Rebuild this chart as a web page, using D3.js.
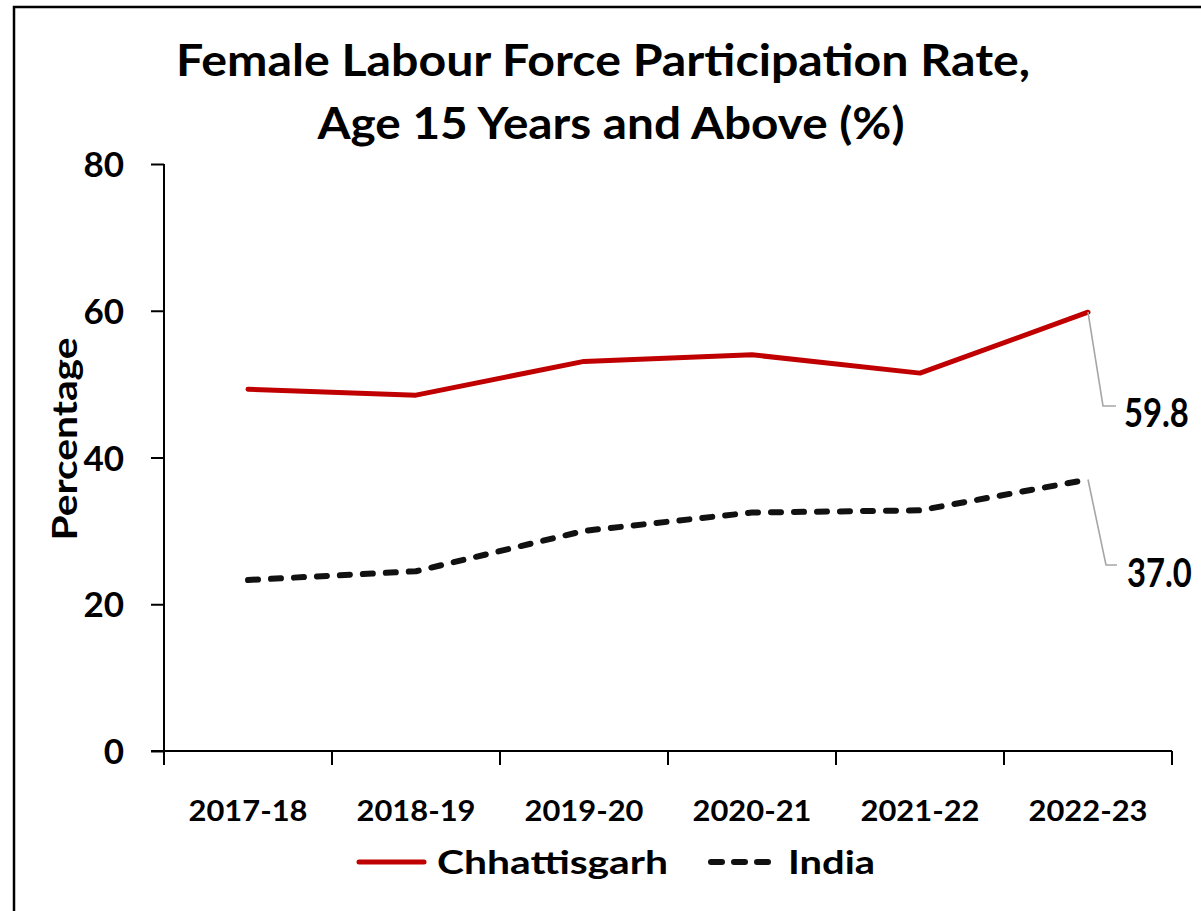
<!DOCTYPE html>
<html>
<head>
<meta charset="utf-8">
<script src="https://cdn.jsdelivr.net/npm/d3@7"></script>
<style>
  html, body { margin: 0; padding: 0; background: #fff; }
  svg { display: block; font-family: Lato, "Open Sans", sans-serif; }
</style>
</head>
<body>
<div id="chart"></div>
<script>
const categories = ["2017-18", "2018-19", "2019-20", "2020-21", "2021-22", "2022-23"];
const chhattisgarh = [49.3, 48.5, 53.1, 54.0, 51.5, 59.8];
const india = [23.3, 24.5, 30.0, 32.5, 32.8, 37.0];
const yTicks = [0, 20, 40, 60, 80];
const seriesNames = ["Chhattisgarh", "India"];
const titleLines = ["Female Labour Force Participation Rate,", "Age 15 Years and Above (%)"];
const yTitle = "Percentage";

(function () {
const W = 1201, H = 911;
const svg = d3.select("#chart").append("svg").attr("width", W).attr("height", H);

// outer border
svg.append("rect").attr("x", 14).attr("y", 7).attr("width", W + 20).attr("height", H + 20)
  .attr("fill", "none").attr("stroke", "#000").attr("stroke-width", 2.5);

const pLeft = 164, pRight = 1172, pTop = 164, pBottom = 751;
const x = d3.scaleBand().domain(categories).range([pLeft, pRight]).padding(0);
const y = d3.scaleLinear().domain([0, 80]).range([pBottom, pTop]);
const cx = c => x(c) + x.bandwidth() / 2;

// title
const title = svg.append("g").attr("font-weight", 700).attr("font-size", 44).attr("fill", "#000");
title.append("text").attr("x", 603).attr("y", 76).attr("text-anchor", "middle")
  .attr("textLength", 854).attr("lengthAdjust", "spacingAndGlyphs").text(titleLines[0]);
title.append("text").attr("x", 611).attr("y", 139).attr("text-anchor", "middle")
  .attr("textLength", 587).attr("lengthAdjust", "spacingAndGlyphs").text(titleLines[1]);

// y axis
const yAxis = svg.append("g").attr("transform", `translate(${pLeft},0)`)
  .call(d3.axisLeft(y).tickValues(yTicks).tickSize(13).tickPadding(27).tickFormat(d3.format("d")));
yAxis.select(".domain").attr("d", `M0,${pTop}V${pBottom + 14}`).attr("stroke", "#000").attr("stroke-width", 2);
yAxis.selectAll(".tick line").attr("stroke", "#000").attr("stroke-width", 2);
yAxis.selectAll(".tick text").attr("font-family", "Lato, sans-serif").attr("font-size", 35)
  .attr("font-weight", 700).attr("fill", "#000").attr("dy", "0.36em");

// x axis line
svg.append("line").attr("x1", pLeft - 13).attr("x2", pRight).attr("y1", pBottom).attr("y2", pBottom)
  .attr("stroke", "#000").attr("stroke-width", 2);
// boundary ticks
const boundaries = categories.map(c => x(c)).concat([x.range()[1]]);
svg.append("g").selectAll("line").data(boundaries).join("line")
  .attr("x1", d => d).attr("x2", d => d).attr("y1", pBottom).attr("y2", pBottom + 14)
  .attr("stroke", "#000").attr("stroke-width", 2);
// x labels
svg.append("g").selectAll("text").data(categories).join("text")
  .attr("x", d => cx(d)).attr("y", 821).attr("text-anchor", "middle")
  .attr("font-size", 29).attr("font-weight", 700).attr("fill", "#000")
  .attr("textLength", 119).attr("lengthAdjust", "spacingAndGlyphs").text(d => d);

// y title
svg.append("text").attr("transform", "translate(77,439) rotate(-90)")
  .attr("text-anchor", "middle").attr("font-size", 34).attr("font-weight", 700).attr("fill", "#000")
  .attr("textLength", 203).attr("lengthAdjust", "spacingAndGlyphs").text(yTitle);

// lines
const line = d3.line().x((d, i) => cx(categories[i])).y(d => y(d));
svg.append("path").datum(chhattisgarh).attr("d", line)
  .attr("fill", "none").attr("stroke", "#c00000").attr("stroke-width", 5)
  .attr("stroke-linejoin", "round").attr("stroke-linecap", "round");
svg.append("path").datum(india).attr("d", line)
  .attr("fill", "none").attr("stroke", "#111").attr("stroke-width", 6)
  .attr("stroke-dasharray", "10,13").attr("stroke-linecap", "round").attr("stroke-linejoin", "round");

// data labels with leader lines
const lastC = categories[categories.length - 1];
const labels = [
  { v: chhattisgarh[chhattisgarh.length - 1], dx1: 15, ly: 406, dx2: 28, tx: 1124, ty: 427 },
  { v: india[india.length - 1], dx1: 18, ly: 565, dx2: 29, tx: 1127, ty: 587 }
];
labels.forEach(l => {
  const px = cx(lastC), py = y(l.v);
  svg.append("path").attr("d", `M${px},${py}L${px + l.dx1},${l.ly}H${px + l.dx2}`)
    .attr("fill", "none").attr("stroke", "#a6a6a6").attr("stroke-width", 1.6);
  svg.append("text").attr("transform", `translate(${l.tx},${l.ty}) scale(0.82,1)`)
    .attr("font-size", 40).attr("font-weight", 700)
    .attr("fill", "#000").text(d3.format(".1f")(l.v));
});

// legend
const lg = svg.append("g");
lg.append("line").attr("x1", 359).attr("x2", 424).attr("y1", 862).attr("y2", 862)
  .attr("stroke", "#c00000").attr("stroke-width", 5).attr("stroke-linecap", "round");
lg.append("text").attr("x", 437).attr("y", 874).attr("font-size", 33).attr("font-weight", 700)
  .attr("fill", "#000").attr("textLength", 231).attr("lengthAdjust", "spacingAndGlyphs").text(seriesNames[0]);
lg.append("line").attr("x1", 711).attr("x2", 772).attr("y1", 862).attr("y2", 862)
  .attr("stroke", "#111").attr("stroke-width", 6).attr("stroke-dasharray", "11,12").attr("stroke-linecap", "round");
lg.append("text").attr("x", 788).attr("y", 874).attr("font-size", 33).attr("font-weight", 700)
  .attr("fill", "#000").attr("textLength", 87).attr("lengthAdjust", "spacingAndGlyphs").text(seriesNames[1]);
})();
</script>
</body>
</html>
